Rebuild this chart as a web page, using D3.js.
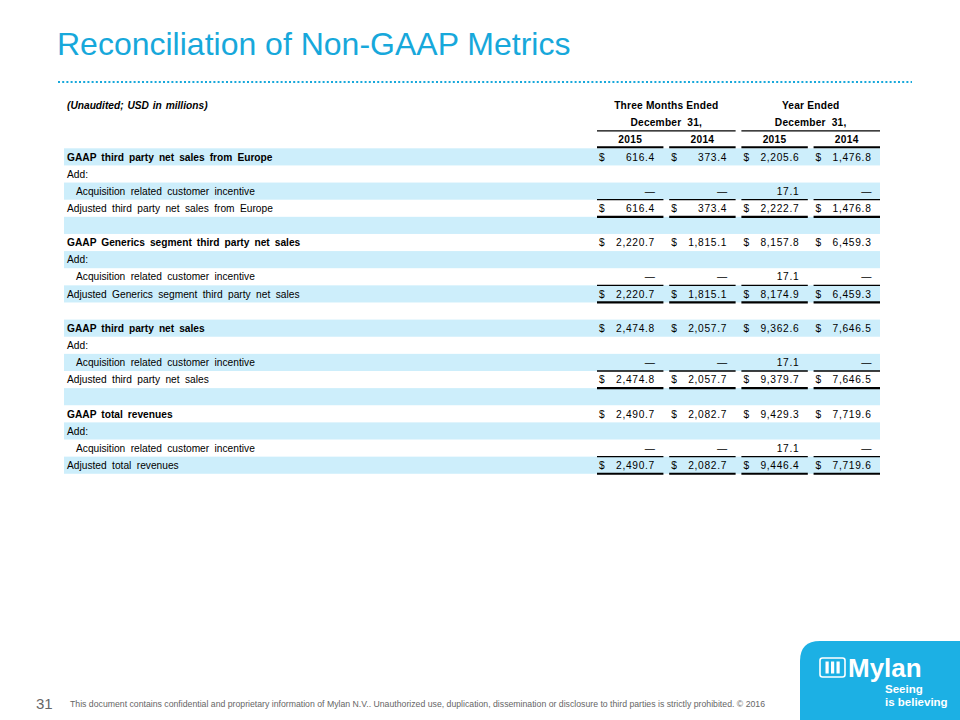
<!DOCTYPE html>
<html>
<head>
<meta charset="utf-8">
<script src="https://cdn.jsdelivr.net/npm/d3@7"></script>
<style>
  html, body { margin: 0; padding: 0; background: #fff; }
  svg { display: block; font-family: "Liberation Sans", Arial, sans-serif; }
</style>
</head>
<body>
<svg id="chart" width="960" height="720"></svg>
<script>
// ---------- DATA ----------
const title = "Reconciliation of Non-GAAP Metrics";
const unitNote = "(Unaudited; USD in millions)";
const periodGroups = ["Three Months Ended", "Year Ended"];
const periodSubs = ["December 31,", "December 31,"];
const columnYears = ["2015", "2014", "2015", "2014"];

const rowLabels = [
  "GAAP third party net sales from Europe",
  "Add:",
  "Acquisition related customer incentive",
  "Adjusted third party net sales from Europe",
  "",
  "GAAP Generics segment third party net sales",
  "Add:",
  "Acquisition related customer incentive",
  "Adjusted Generics segment third party net sales",
  "",
  "GAAP third party net sales",
  "Add:",
  "Acquisition related customer incentive",
  "Adjusted third party net sales",
  "",
  "GAAP total revenues",
  "Add:",
  "Acquisition related customer incentive",
  "Adjusted total revenues"
];
// row kinds: gaap | add | item | adjusted | blank
const rowKinds = [
  "gaap","add","item","adjusted","blank",
  "gaap","add","item","adjusted","blank",
  "gaap","add","item","adjusted","blank",
  "gaap","add","item","adjusted"
];
// null = em dash, undefined = empty
const q4_2015 = [616.4, undefined, null, 616.4, undefined,
                 2220.7, undefined, null, 2220.7, undefined,
                 2474.8, undefined, null, 2474.8, undefined,
                 2490.7, undefined, null, 2490.7];
const q4_2014 = [373.4, undefined, null, 373.4, undefined,
                 1815.1, undefined, null, 1815.1, undefined,
                 2057.7, undefined, null, 2057.7, undefined,
                 2082.7, undefined, null, 2082.7];
const fy_2015 = [2205.6, undefined, 17.1, 2222.7, undefined,
                 8157.8, undefined, 17.1, 8174.9, undefined,
                 9362.6, undefined, 17.1, 9379.7, undefined,
                 9429.3, undefined, 17.1, 9446.4];
const fy_2014 = [1476.8, undefined, null, 1476.8, undefined,
                 6459.3, undefined, null, 6459.3, undefined,
                 7646.5, undefined, null, 7646.5, undefined,
                 7719.6, undefined, null, 7719.6];
const seriesValues = [q4_2015, q4_2014, fy_2015, fy_2014];

const footerPage = "31";
const footerText = "This document contains confidential and proprietary information of Mylan N.V.. Unauthorized use, duplication, dissemination or disclosure to third parties is strictly prohibited.  \u00A9 2016";

// ---------- DRAW ----------
const svg = d3.select("#chart");
const BLUE = "#17a8db";
const SHADE = "#cdeefb";
const fmt = d3.format(",.1f");

// Title
svg.append("text").attr("x", 57).attr("y", 54.5)
  .attr("font-size", 32).attr("fill", BLUE).text(title);

// dotted rule
svg.append("line").attr("x1", 58).attr("x2", 912).attr("y1", 82).attr("y2", 82)
  .attr("stroke", BLUE).attr("stroke-width", 2).attr("stroke-dasharray", "2,2.2");

// scales
const y = d3.scaleBand().domain(d3.range(rowLabels.length))
  .range([148.3, 148.3 + 17.13 * rowLabels.length]);
const x = d3.scaleBand().domain(d3.range(columnYears.length))
  .range([597, 880]).paddingInner(0.08).paddingOuter(0);

// shading (alternating)
svg.append("g").selectAll("rect").data(d3.range(rowLabels.length).filter(i => i % 2 === 0))
  .join("rect")
  .attr("x", 64).attr("width", 816)
  .attr("y", i => y(i)).attr("height", y.bandwidth())
  .attr("fill", SHADE);

const fs = 10.2;

// header
svg.append("text").attr("x", 67).attr("y", 109)
  .attr("font-size", fs).attr("font-weight", "bold").attr("font-style", "italic")
  .attr("fill", "#000").style("word-spacing", "1px").text(unitNote);

periodGroups.forEach((g, gi) => {
  const c0 = gi * 2, c1 = gi * 2 + 1;
  const cx = (x(c0) + x(c1) + x.bandwidth()) / 2;
  svg.append("text").attr("x", cx).attr("y", 109).attr("text-anchor", "middle")
    .attr("font-size", fs).attr("font-weight", "bold").style("letter-spacing", "0.2px").text(g);
  svg.append("text").attr("x", cx).attr("y", 126).attr("text-anchor", "middle")
    .attr("font-size", fs).attr("font-weight", "bold").style("letter-spacing", "0.2px").style("word-spacing", "3px").text(periodSubs[gi]);
  svg.append("line").attr("x1", x(c0)).attr("x2", x(c1) + x.bandwidth())
    .attr("y1", 130.8).attr("y2", 130.8).attr("stroke", "#000").attr("stroke-width", 1.3);
});
columnYears.forEach((yr, ci) => {
  svg.append("text").attr("x", x(ci) + x.bandwidth() / 2).attr("y", 142.5)
    .attr("text-anchor", "middle").attr("font-size", fs).attr("font-weight", "bold")
    .style("letter-spacing", "0.3px").text(yr);
  svg.append("line").attr("x1", x(ci)).attr("x2", x(ci) + x.bandwidth())
    .attr("y1", 147.3).attr("y2", 147.3).attr("stroke", "#000").attr("stroke-width", 2);
});

// row labels
const rows = svg.append("g");
rowLabels.forEach((lab, i) => {
  if (!lab) return;
  const k = rowKinds[i];
  rows.append("text")
    .attr("x", k === "item" ? 76 : 67)
    .attr("y", y(i) + y.bandwidth() / 2 + 3.7)
    .attr("font-size", fs)
    .attr("font-weight", k === "gaap" ? "bold" : "normal")
    .style("word-spacing", k === "gaap" ? "2.2px" : "2.6px")
    .attr("fill", "#000").text(lab);
});

// values
seriesValues.forEach((vals, ci) => {
  vals.forEach((v, i) => {
    if (v === undefined) return;
    const ty = y(i) + y.bandwidth() / 2 + 3.7;
    const k = rowKinds[i];
    const right = x(ci) + x.bandwidth() - 8.5;
    if (v === null) {
      rows.append("text").attr("x", right).attr("y", ty).attr("text-anchor", "end")
        .attr("font-size", fs).text("\u2014");
    } else {
      if (k === "gaap" || k === "adjusted") {
        rows.append("text").attr("x", x(ci) + 2).attr("y", ty)
          .attr("font-size", fs).text("$");
      }
      rows.append("text").attr("x", right).attr("y", ty).attr("text-anchor", "end")
        .attr("font-size", fs).style("letter-spacing", "0.7px").text(fmt(v));
    }
    if (k === "item") {
      rows.append("line").attr("x1", x(ci)).attr("x2", x(ci) + x.bandwidth())
        .attr("y1", y(i) + y.bandwidth()).attr("y2", y(i) + y.bandwidth())
        .attr("stroke", "#000").attr("stroke-width", 1.3);
    }
    if (k === "adjusted") {
      rows.append("line").attr("x1", x(ci)).attr("x2", x(ci) + x.bandwidth())
        .attr("y1", y(i) + y.bandwidth()).attr("y2", y(i) + y.bandwidth())
        .attr("stroke", "#000").attr("stroke-width", 2.2);
    }
  });
});

// footer
svg.append("text").attr("x", 36).attr("y", 709).attr("font-size", 15)
  .attr("fill", "#666").text(footerPage);
svg.append("text").attr("x", 70).attr("y", 707).attr("font-size", 9)
  .attr("fill", "#666").attr("textLength", 695).attr("lengthAdjust", "spacingAndGlyphs")
  .text(footerText);

// logo
const LOGO = "#1cb0e4";
const lx = 800, ly = 641, r = 20;
svg.append("path")
  .attr("d", `M${lx},720 L${lx},${ly + r} Q${lx},${ly} ${lx + r},${ly} L960,${ly} L960,720 Z`)
  .attr("fill", LOGO);
svg.append("rect").attr("x", 820).attr("y", 658).attr("width", 25).attr("height", 19)
  .attr("rx", 2.5).attr("fill", "none").attr("stroke", "#fff").attr("stroke-width", 1.6);
[825.5, 831, 836.5].forEach(bx => {
  svg.append("rect").attr("x", bx).attr("y", 661.5).attr("width", 3.2).attr("height", 12).attr("fill", "#fff");
});
svg.append("text").attr("x", 848).attr("y", 677).attr("font-size", 26).attr("font-weight", "bold")
  .attr("fill", "#fff").text("Mylan");
svg.append("text").attr("x", 885).attr("y", 693).attr("font-size", 11.5).attr("font-weight", "bold")
  .attr("fill", "#fff").text("Seeing");
svg.append("text").attr("x", 885).attr("y", 705.5).attr("font-size", 11.5).attr("font-weight", "bold")
  .attr("fill", "#fff").text("is believing");
</script>
</body>
</html>
